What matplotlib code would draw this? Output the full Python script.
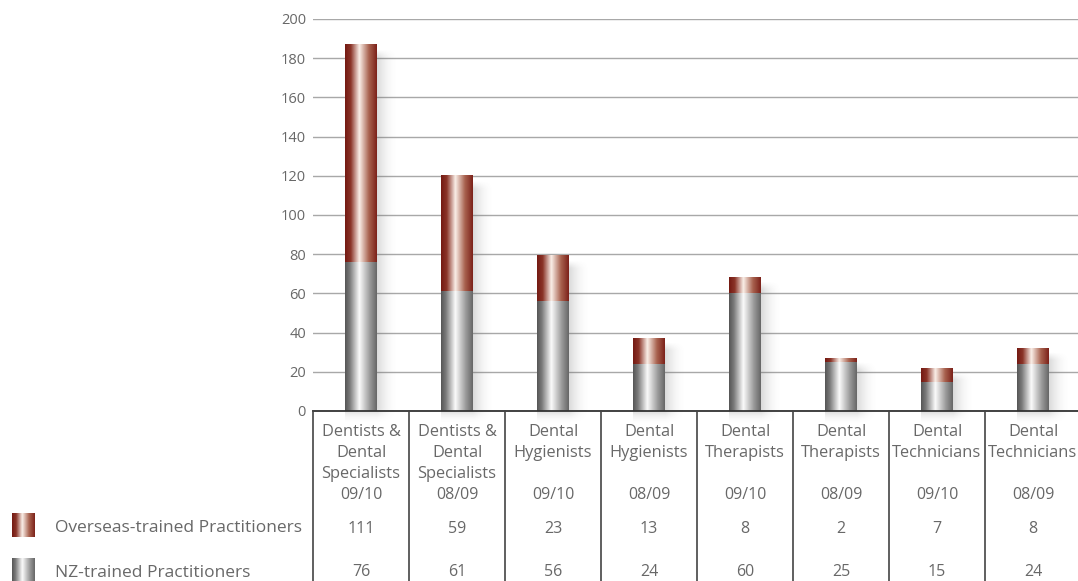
import numpy as np
import matplotlib
matplotlib.use("Agg")
from matplotlib import pyplot as plt
from matplotlib import transforms
from matplotlib.colors import LinearSegmentedColormap

plt.rcParams['font.family'] = ['Open Sans', 'DejaVu Sans']

# data
categories = [
    ["Dentists &", "Dental", "Specialists"],
    ["Dentists &", "Dental", "Specialists"],
    ["Dental", "Hygienists"],
    ["Dental", "Hygienists"],
    ["Dental", "Therapists"],
    ["Dental", "Therapists"],
    ["Dental", "Technicians"],
    ["Dental", "Technicians"],
]
years = ["09/10", "08/09", "09/10", "08/09", "09/10", "08/09", "09/10", "08/09"]
overseas = [111, 59, 23, 13, 8, 2, 7, 8]
nz_trained = [76, 61, 56, 24, 60, 25, 15, 24]
series_names = ["Overseas-trained Practitioners", "NZ-trained Practitioners"]
yticks = list(range(0, 201, 20))

TXT = '#686868'
W, H = 1078, 581

gray_cmap = LinearSegmentedColormap.from_list(
    'gr', [(0, '#555555'), (0.15, '#7a7a7a'), (0.45, '#fbfbfb'), (0.78, '#9a9a9a'), (1, '#666666')])
red_cmap = LinearSegmentedColormap.from_list(
    'rd', [(0, '#741912'), (0.18, '#8a3428'), (0.45, '#faefe8'), (0.75, '#a8624f'), (1, '#7c2119')])
grad = np.linspace(0, 1, 256).reshape(1, -1)


def fill_gradient(ax, patch, cmap, z):
    x0, y0 = patch.get_x(), patch.get_y()
    x1, y1 = x0 + patch.get_width(), y0 + patch.get_height()
    ax.imshow(grad, cmap=cmap, extent=(x0, x1, y0, y1), aspect='auto',
              interpolation='bilinear', zorder=z)


def draw_shadow(ax, patch, top):
    x0 = patch.get_x()
    x1 = x0 + patch.get_width()
    sx0, sx1 = x0, x1 + 0.22
    sy0, sy1 = -7, top - 2
    xs = np.linspace(sx0, sx1, 80)
    ys = np.linspace(sy1, sy0, 120)
    fx = np.clip(1 - (xs - x1) / 0.22, 0, 1) ** 2
    fx[xs < x1] = 1
    fy = np.clip(1 - (-ys) / 7, 0, 1) ** 2
    fy[ys >= 0] = 1
    fy = fy * np.clip((sy1 - ys) / 4, 0, 1)
    a = 0.22 * np.outer(fy, fx)
    img = np.zeros((len(ys), len(xs), 4))
    img[..., :3] = 0.35
    img[..., 3] = a
    im = ax.imshow(img, extent=(sx0, sx1, sy0, sy1), aspect='auto',
                   interpolation='bilinear', zorder=2)
    im.set_clip_on(False)


fig = plt.figure(figsize=(W / 100, H / 100), dpi=100)
ax = fig.add_axes([313 / W, 170 / H, 768 / W, 392 / H])

x = np.arange(len(categories))
nz_bars = ax.bar(x, nz_trained, width=0.333, color='none', zorder=3)
os_bars = ax.bar(x, overseas, width=0.333, bottom=nz_trained, color='none', zorder=3)

for pn, po in zip(nz_bars, os_bars):
    draw_shadow(ax, pn, po.get_y() + po.get_height())
    fill_gradient(ax, pn, gray_cmap, 4)
    fill_gradient(ax, po, red_cmap, 4)

ax.set_xlim(-0.5, len(categories) - 0.5)
ax.set_ylim(0, 200)
ax.set_yticks(yticks)
ax.set_xticks([])
ax.yaxis.grid(True, color='#a8a8a8', lw=1)
ax.set_axisbelow(True)
for s in ax.spines.values():
    s.set_visible(False)
ax.tick_params(axis='y', length=0, pad=5, labelsize=10.5, labelcolor=TXT)

# table
ax.axhline(0, color='#333333', lw=1.3, clip_on=False, zorder=5)
tr = transforms.blended_transform_factory(ax.transData, fig.transFigure)
for b in np.arange(-0.5, len(categories) - 0.5):
    ax.plot([b, b], [0, 170 / H], color='#444444', lw=1.2,
            transform=tr, clip_on=False, zorder=5)

line_y = [432, 453, 474]
for i, lab in enumerate(categories):
    for j, part in enumerate(lab):
        ax.text(i, (H - line_y[j]) / H, part, transform=tr, ha='center',
                va='center', fontsize=11.8, color=TXT)
    ax.text(i, (H - 495) / H, years[i], transform=tr, ha='center',
            va='center', fontsize=11.5, color=TXT)
    ax.text(i, (H - 529) / H, str(overseas[i]), transform=tr, ha='center',
            va='center', fontsize=11.5, color=TXT)
    ax.text(i, (H - 572) / H, str(nz_trained[i]), transform=tr, ha='center',
            va='center', fontsize=11.5, color=TXT)

# legend
for name, cmap, yc in [(series_names[0], red_cmap, 525), (series_names[1], gray_cmap, 570)]:
    sw = fig.add_axes([12 / W, (H - yc - 12) / H, 23 / W, 24 / H])
    sw.imshow(grad, cmap=cmap, aspect='auto', interpolation='bilinear')
    sw.axis('off')
    fig.text(55 / W, (H - yc - 3) / H, name, ha='left', va='center',
             fontsize=12.5, color=TXT)

fig.savefig('out.png', dpi=100, facecolor='white')
